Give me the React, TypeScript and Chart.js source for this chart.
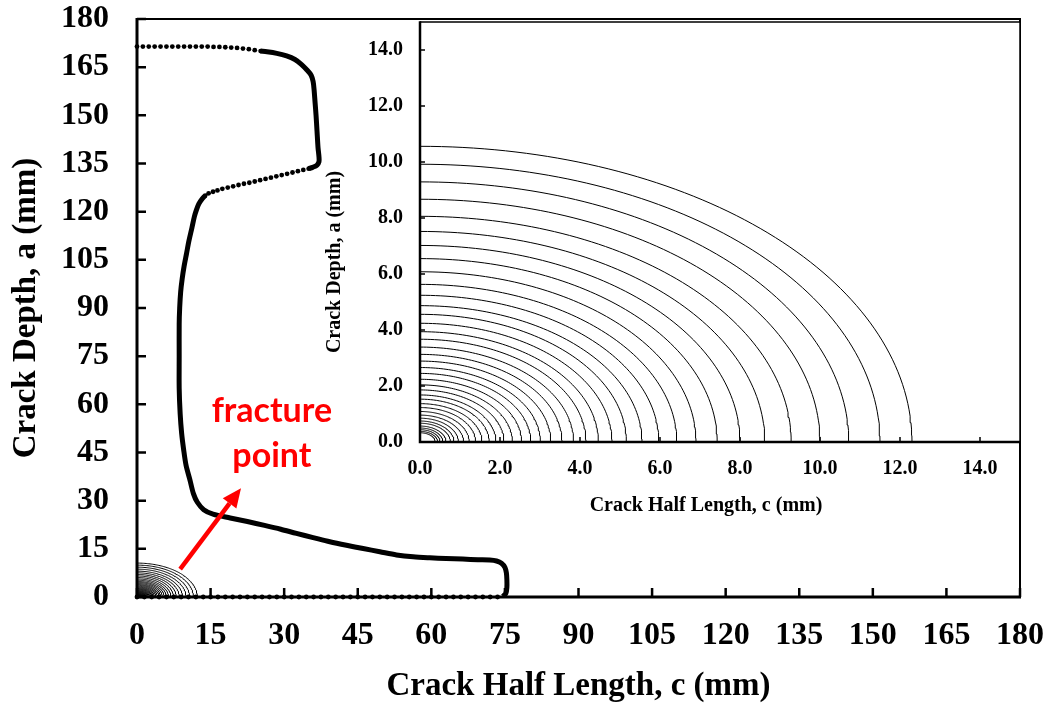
import React, { useEffect, useRef } from "react";
import { Chart, registerables } from "chart.js";

Chart.register(...registerables);

// ---------------- data (mm) ----------------
// main crack-front profile (c = half length, a = depth)
const topDotsC = [0, 1.2, 2.4, 3.6, 4.8, 6.0, 7.2, 8.4, 9.6, 10.8, 12.0, 13.2, 14.4, 15.6, 16.8, 18.0, 19.2, 20.4, 21.6, 22.8, 24.0, 25.2];
const topDotsA = [171.4, 171.4, 171.4, 171.4, 171.4, 171.4, 171.4, 171.4, 171.4, 171.4, 171.4, 171.4, 171.4, 171.3, 171.3, 171.2, 171.1, 171.0, 170.8, 170.6, 170.3, 170.0];

const cornerC = [25.2, 26.5, 28.5, 30.5, 32.2, 33.5, 34.6, 35.5, 35.9, 36.1, 36.3, 36.5, 36.7, 36.9, 37.1, 37.1, 36.7, 35.8, 35.0];
const cornerA = [170.0, 169.8, 169.3, 168.5, 167.4, 165.9, 164.2, 162.5, 160.5, 158.0, 154.0, 150.0, 145.0, 140.0, 137.0, 135.6, 134.5, 133.8, 133.4];

const riseDotsC = [35.0, 33.9, 32.8, 31.7, 30.6, 29.5, 28.4, 27.3, 26.2, 25.1, 24.0, 22.9, 21.8, 20.7, 19.6, 18.5, 17.4, 16.4, 15.5, 14.6, 13.9];
const riseDotsA = [133.4, 133.0, 132.6, 132.2, 131.8, 131.4, 131.0, 130.6, 130.2, 129.8, 129.4, 129.0, 128.7, 128.3, 127.9, 127.5, 127.1, 126.6, 126.2, 125.7, 125.0];

const bodyC = [13.9, 13.3, 12.6, 12.1, 11.7, 11.2, 10.6, 10.1, 9.6, 9.2, 8.9, 8.7, 8.6, 8.6, 8.6, 8.8, 9.1, 9.5, 10.0, 10.8, 11.5, 12.3, 13.6, 15.5, 19.0, 22.5, 26.0, 29.3, 32.5, 35.9, 39.3, 42.7, 46.1, 49.5, 52.9, 56.3, 59.7, 63.0, 66.4, 69.5, 71.9, 73.3, 74.3, 75.0, 75.3, 75.4, 75.4, 75.2, 74.6];
const bodyA = [125.0, 124.0, 122.4, 120.5, 118.5, 115.0, 111.0, 107.0, 103.0, 99.0, 95.0, 90.0, 85.0, 75.0, 65.0, 57.0, 51.0, 46.0, 41.0, 36.4, 32.2, 29.5, 27.2, 25.8, 24.6, 23.5, 22.3, 21.1, 19.8, 18.5, 17.2, 16.1, 15.1, 14.1, 13.1, 12.5, 12.2, 12.0, 11.8, 11.6, 11.5, 11.2, 10.5, 9.2, 7.5, 5.3, 3.0, 1.2, 0.2];

const bottomDotsC = [73.5, 72.0, 70.5, 69.0, 67.5, 66.0, 64.5, 63.0, 61.5, 60.0, 58.5, 57.0, 55.5, 54.0, 52.5, 51.0, 49.5, 48.0, 46.5, 45.0, 43.5, 42.0, 40.5, 39.0, 37.5, 36.0, 34.5, 33.0, 31.5, 30.0, 28.5, 27.0, 25.5, 24.0, 22.5, 21.0, 19.5, 18.0, 16.5, 15.0, 13.5, 12.0, 10.5, 9.0, 7.5, 6.0, 4.5, 3.0, 1.5, 0.0];
const bottomDotsDepth = 0;

// semi-elliptical crack fronts: depth a (at c = 0) and half length c (at a = 0)
const ellipseA = [10.56, 9.92, 9.29, 8.67, 8.06, 7.52, 7.02, 6.55, 6.08, 5.63, 5.24, 4.87, 4.56, 4.24, 3.94, 3.67, 3.39, 3.13, 2.89, 2.66, 2.45, 2.24, 2.04, 1.86, 1.68, 1.53, 1.37, 1.23, 1.09, 0.96, 0.85, 0.75, 0.67, 0.57, 0.50, 0.44, 0.38, 0.33];
const ellipseC = [12.30, 11.50, 10.72, 10.00, 9.28, 8.62, 8.00, 7.43, 6.90, 6.42, 5.97, 5.55, 5.16, 4.80, 4.46, 4.15, 3.84, 3.55, 3.27, 3.01, 2.77, 2.54, 2.31, 2.10, 1.90, 1.73, 1.55, 1.39, 1.23, 1.09, 0.96, 0.85, 0.76, 0.65, 0.57, 0.50, 0.44, 0.38];

// axes
const mainMax = 180;
const mainStep = 15;
const insetMax = 15;
const insetStep = 2;

// annotation (data coordinates of main chart)
const arrowFrom = [8.8, 8.7];
const arrowTo = [21.2, 33.9];
const noteLines = ["fracture", "point"];
const noteAnchors = [[27.5, 57.8], [27.5, 43.8]];

// ---------------- helpers ----------------
const SERIF = "'Liberation Serif', 'Times New Roman', serif";

const toPts = (cs: number[], as: number[]) => cs.map((c, i) => ({ x: c, y: as[i] }));

function ellipseOutline(c: number, a: number) {
  const out: { x: number; y: number }[] = [];
  const n = 72;
  for (let i = 0; i <= n; i++) {
    const t = (Math.PI / 2) * (i / n);
    out.push({ x: c * Math.cos(t), y: a * Math.sin(t) });
  }
  return out;
}

function ellipseDatasets() {
  return ellipseA.map((a, i) => ({
    data: ellipseOutline(ellipseC[i], a),
    showLine: true,
    borderColor: "#000",
    borderWidth: 1,
    pointRadius: 0,
    tension: 0,
    fill: false,
  }));
}

const noScalePadding = (s: any) => {
  s.paddingTop = 0;
  s.paddingBottom = 0;
  s.paddingLeft = 0;
  s.paddingRight = 0;
};

const framePlugin = {
  id: "frame",
  beforeDatasetsDraw(chart: any, _a: any, opts: any) {
    if (!opts.fill) return;
    const { ctx, chartArea } = chart;
    ctx.save();
    ctx.fillStyle = opts.fill;
    ctx.fillRect(chartArea.left, chartArea.top, chartArea.right - chartArea.left, chartArea.bottom - chartArea.top);
    ctx.restore();
  },
  afterDatasetsDraw(chart: any, _a: any, opts: any) {
    const { ctx, chartArea, scales } = chart;
    const { left, top, right, bottom } = chartArea;
    const xs = scales.x;
    const ys = scales.y;
    ctx.save();
    ctx.strokeStyle = "#000";
    ctx.lineCap = "butt";
    ctx.lineWidth = opts.borderWidth;
    ctx.beginPath();
    ctx.moveTo(left, top);
    ctx.lineTo(right, top);
    ctx.lineTo(right, bottom);
    ctx.stroke();
    ctx.lineWidth = opts.axisWidth;
    ctx.beginPath();
    ctx.moveTo(left, top - opts.borderWidth / 2);
    ctx.lineTo(left, bottom);
    ctx.lineTo(right + opts.borderWidth / 2, bottom);
    ctx.stroke();
    ctx.lineWidth = opts.tickWidth;
    ctx.beginPath();
    xs.ticks.forEach((t: any) => {
      const p = xs.getPixelForValue(t.value);
      ctx.moveTo(p, bottom);
      ctx.lineTo(p, bottom - opts.tickLen);
    });
    ys.ticks.forEach((t: any) => {
      const p = ys.getPixelForValue(t.value);
      ctx.moveTo(left, p);
      ctx.lineTo(left + opts.tickLen, p);
    });
    ctx.stroke();
    ctx.restore();
  },
};

const notePlugin = {
  id: "note",
  afterDatasetsDraw(chart: any) {
    const { ctx, scales } = chart;
    const xs = scales.x;
    const ys = scales.y;
    const x0 = xs.getPixelForValue(arrowFrom[0]);
    const y0 = ys.getPixelForValue(arrowFrom[1]);
    const x1 = xs.getPixelForValue(arrowTo[0]);
    const y1 = ys.getPixelForValue(arrowTo[1]);
    const ang = Math.atan2(y1 - y0, x1 - x0);
    const headLen = 19;
    const headHalf = 8.5;
    const bx = x1 - headLen * Math.cos(ang);
    const by = y1 - headLen * Math.sin(ang);
    ctx.save();
    ctx.strokeStyle = "#ff0000";
    ctx.fillStyle = "#ff0000";
    ctx.lineWidth = 4.5;
    ctx.beginPath();
    ctx.moveTo(x0, y0);
    ctx.lineTo(bx, by);
    ctx.stroke();
    ctx.beginPath();
    ctx.moveTo(x1, y1);
    ctx.lineTo(bx + headHalf * Math.sin(ang), by - headHalf * Math.cos(ang));
    ctx.lineTo(bx - headHalf * Math.sin(ang), by + headHalf * Math.cos(ang));
    ctx.closePath();
    ctx.fill();
    ctx.font = "bold 34px Lato, 'Open Sans', sans-serif";
    ctx.textAlign = "center";
    ctx.textBaseline = "middle";
    noteLines.forEach((txt, i) => {
      ctx.fillText(txt, xs.getPixelForValue(noteAnchors[i][0]), ys.getPixelForValue(noteAnchors[i][1]));
    });
    ctx.restore();
  },
};

const insetTitlePlugin = {
  id: "insetTitles",
  afterDraw(chart: any) {
    const { ctx, chartArea } = chart;
    const cx = (chartArea.left + chartArea.right) / 2;
    const cy = (chartArea.top + chartArea.bottom) / 2;
    ctx.save();
    ctx.fillStyle = "#000";
    ctx.font = `bold 20px ${SERIF}`;
    ctx.textAlign = "center";
    ctx.textBaseline = "middle";
    ctx.fillText("Crack Half Length, c (mm)", cx - 14, chartArea.bottom + 64);
    ctx.translate(chartArea.left - 85, cy + 30);
    ctx.rotate(-Math.PI / 2);
    ctx.fillText("Crack Depth, a (mm)", 0, 0);
    ctx.restore();
  },
};

function mainConfig(): any {
  const tickFont = { family: SERIF, size: 32, weight: "bold" as const };
  const titleFont = { family: SERIF, size: 33, weight: "bold" as const, lineHeight: 1 };
  return {
    type: "scatter",
    data: {
      datasets: [
        ...ellipseDatasets(),
        { data: toPts(topDotsC, topDotsA), showLine: false, pointRadius: 2.4, pointBackgroundColor: "#000", pointBorderWidth: 0, clip: false },
        { data: toPts(cornerC, cornerA), showLine: true, borderColor: "#000", borderWidth: 5, pointRadius: 0, tension: 0.3, clip: false },
        { data: toPts(riseDotsC, riseDotsA), showLine: false, pointRadius: 2.4, pointBackgroundColor: "#000", pointBorderWidth: 0, clip: false },
        { data: toPts(bodyC, bodyA), showLine: true, borderColor: "#000", borderWidth: 5, pointRadius: 0, tension: 0.3, clip: false },
        { data: bottomDotsC.map((c) => ({ x: c, y: bottomDotsDepth })), showLine: false, pointRadius: 2.4, pointBackgroundColor: "#000", pointBorderWidth: 0, clip: false },
      ],
    },
    options: {
      animation: false,
      responsive: false,
      events: [],
      layout: { padding: { left: 0, right: 27, top: 19, bottom: 0 } },
      plugins: {
        legend: { display: false },
        tooltip: { enabled: false },
        frame: { borderWidth: 2, axisWidth: 3, tickWidth: 2.5, tickLen: 9 },
      },
      scales: {
        x: {
          type: "linear",
          min: 0,
          max: mainMax,
          grid: { display: false, drawTicks: false },
          border: { display: false },
          ticks: { stepSize: mainStep, includeBounds: false, autoSkip: false, maxRotation: 0, color: "#000", font: tickFont, padding: 20 },
          title: { display: true, text: "Crack Half Length, c (mm)", color: "#000", font: titleFont, padding: { top: 0, bottom: 0 } },
          afterFit: (s: any) => { s.height = 106; noScalePadding(s); },
        },
        y: {
          type: "linear",
          min: 0,
          max: mainMax,
          grid: { display: false, drawTicks: false },
          border: { display: false },
          ticks: { stepSize: mainStep, includeBounds: false, autoSkip: false, color: "#000", font: tickFont, padding: 28 },
          title: { display: true, text: "Crack Depth, a (mm)", color: "#000", font: titleFont, padding: { top: 10, bottom: 0 } },
          afterFit: (s: any) => { s.width = 137; noScalePadding(s); },
        },
      },
    },
    plugins: [framePlugin, notePlugin],
  };
}

function insetConfig(): any {
  const tickFont = { family: SERIF, size: 20, weight: "bold" as const };
  const fmt = (v: any) => Number(v).toFixed(1);
  return {
    type: "scatter",
    data: { datasets: ellipseDatasets() },
    options: {
      animation: false,
      responsive: false,
      events: [],
      layout: { padding: { left: 0, right: 27, top: 22, bottom: 0 } },
      plugins: {
        legend: { display: false },
        tooltip: { enabled: false },
        frame: { fill: "#ffffff", borderWidth: 1.5, axisWidth: 2.5, tickWidth: 1.5, tickLen: 5 },
      },
      scales: {
        x: {
          type: "linear",
          min: 0,
          max: insetMax,
          grid: { display: false, drawTicks: false },
          border: { display: false },
          ticks: { stepSize: insetStep, includeBounds: false, autoSkip: false, maxRotation: 0, color: "#000", font: tickFont, padding: 15, callback: fmt },
          afterFit: (s: any) => { s.height = 98; noScalePadding(s); },
        },
        y: {
          type: "linear",
          min: 0,
          max: insetMax,
          grid: { display: false, drawTicks: false },
          border: { display: false },
          ticks: { stepSize: insetStep, includeBounds: false, autoSkip: false, color: "#000", font: tickFont, padding: 17, callback: fmt },
          afterFit: (s: any) => { s.width = 120; noScalePadding(s); },
        },
      },
    },
    plugins: [framePlugin, insetTitlePlugin],
  };
}

export default function App() {
  const mainRef = useRef<HTMLCanvasElement>(null);
  const insetRef = useRef<HTMLCanvasElement>(null);

  useEffect(() => {
    const main = new Chart(mainRef.current as HTMLCanvasElement, mainConfig());
    const inset = new Chart(insetRef.current as HTMLCanvasElement, insetConfig());
    return () => {
      main.destroy();
      inset.destroy();
    };
  }, []);

  return (
    <div style={{ position: "absolute", left: 0, top: 0, width: 1047, height: 703, background: "#fff", overflow: "hidden" }}>
      <canvas ref={mainRef} width={1047} height={703} style={{ position: "absolute", left: 0, top: 0, width: 1047, height: 703 }} />
      <canvas ref={insetRef} width={747} height={540} style={{ position: "absolute", left: 300, top: 0, width: 747, height: 540 }} />
    </div>
  );
}
